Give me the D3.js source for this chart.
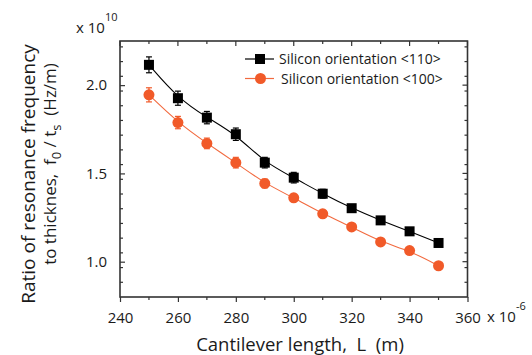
<!DOCTYPE html>
<html>
<head>
<meta charset="utf-8">
<script src="https://cdn.jsdelivr.net/npm/d3@7"></script>
<style>
  body { margin: 0; background: #fff; }
  text { font-family: "Open Sans", "Noto Sans", sans-serif; fill: #1a1a1a; white-space: pre; }
</style>
</head>
<body>
<div id="chart"></div>
<script>
// cantilever length (x 10^-6 m)
var lengths = [250, 260, 270, 280, 290, 300, 310, 320, 330, 340, 350];
// f0 / ts (x 10^10 Hz/m)
var si110 = [2.115, 1.926, 1.816, 1.722, 1.561, 1.476, 1.385, 1.303, 1.234, 1.172, 1.106];
var si110Err = [0.045, 0.04, 0.035, 0.035, 0.03, 0.03, 0.025, 0.02, 0.02, 0.02, 0.015];
var si100 = [1.945, 1.788, 1.670, 1.561, 1.443, 1.362, 1.271, 1.197, 1.112, 1.063, 0.977];
var si100Err = [0.04, 0.035, 0.03, 0.03, 0.025, 0.02, 0.02, 0.015, 0.015, 0.015, 0.01];
var seriesNames = ["Silicon orientation <110>", "Silicon orientation <100>"];
var xTicks = [240, 260, 280, 300, 320, 340, 360];
var yTicks = [1.0, 1.5, 2.0];

var w = 532, h = 355;
var mLeft = 120, mRight = 467.5, mTop = 41, mBottom = 297;

var svg = d3.select("#chart").append("svg")
  .attr("width", w)
  .attr("height", h);

var x = d3.scaleLinear().domain([240, 360]).range([mLeft, mRight]);
var y = d3.scaleLinear().domain([0.8, 2.25]).range([mBottom, mTop]);

var axisColor = "#333";

// minor tick positions
var xMinor = d3.range(250, 360, 20);
var yMinor = d3.range(0, 18).map(function(i) { return 0.8 + i * (0.5 / 6); })
  .filter(function(v) { return v > 0.81 && v < 2.24 && Math.abs(v * 2 - Math.round(v * 2)) > 0.01; });

// bottom axis: ticks outward
svg.append("g")
  .attr("transform", "translate(0," + mBottom + ")")
  .call(d3.axisBottom(x).tickValues(xTicks).tickSize(5).tickPadding(10).tickFormat(d3.format("d")))
  .call(function(g) {
    g.select(".domain").remove();
    g.selectAll(".tick line").attr("stroke", axisColor).attr("stroke-width", 1.2);
    g.selectAll(".tick text").attr("font-size", 15).attr("fill", "#1a1a1a").attr("font-family", "Open Sans");
  });
svg.append("g").selectAll("line").data(xMinor).enter().append("line")
  .attr("x1", function(d) { return x(d); }).attr("x2", function(d) { return x(d); })
  .attr("y1", mBottom).attr("y2", mBottom + 3)
  .attr("stroke", axisColor).attr("stroke-width", 1.2);

// top axis: ticks inward
svg.append("g").selectAll("line").data(xTicks.concat(xMinor)).enter().append("line")
  .attr("x1", function(d) { return x(d); }).attr("x2", function(d) { return x(d); })
  .attr("y1", mTop).attr("y2", function(d) { return xTicks.indexOf(d) >= 0 ? mTop + 5 : mTop + 3; })
  .attr("stroke", axisColor).attr("stroke-width", 1.2);

// left axis
svg.append("g")
  .attr("transform", "translate(" + mLeft + ",0)")
  .call(d3.axisLeft(y).tickValues(yTicks).tickSize(-5).tickPadding(13).tickFormat(d3.format(".1f")))
  .call(function(g) {
    g.select(".domain").remove();
    g.selectAll(".tick line").attr("stroke", axisColor).attr("stroke-width", 1.2);
    g.selectAll(".tick text").attr("font-size", 15).attr("fill", "#1a1a1a").attr("font-family", "Open Sans");
  });
svg.append("g").selectAll("line").data(yMinor).enter().append("line")
  .attr("x1", mLeft).attr("x2", mLeft + 3)
  .attr("y1", function(d) { return y(d); }).attr("y2", function(d) { return y(d); })
  .attr("stroke", axisColor).attr("stroke-width", 1.2);

// right axis ticks inward
svg.append("g").selectAll("line").data(yTicks.concat(yMinor)).enter().append("line")
  .attr("x1", mRight).attr("x2", function(d) { return yTicks.indexOf(d) >= 0 ? mRight - 5 : mRight - 3; })
  .attr("y1", function(d) { return y(d); }).attr("y2", function(d) { return y(d); })
  .attr("stroke", axisColor).attr("stroke-width", 1.2);

// frame
svg.append("rect")
  .attr("x", mLeft).attr("y", mTop)
  .attr("width", mRight - mLeft).attr("height", mBottom - mTop)
  .attr("fill", "none").attr("stroke", axisColor).attr("stroke-width", 1.6);

// scale factors
var t1 = svg.append("text").attr("x", 76).attr("y", 33).attr("font-size", 15);
t1.append("tspan").text("x 10");
t1.append("tspan").attr("dy", -12).attr("font-size", 11).text("10");

var t2 = svg.append("text").attr("x", 487).attr("y", 322).attr("font-size", 15);
t2.append("tspan").text("x 10");
t2.append("tspan").attr("dy", -12).attr("font-size", 11).text("-6");

// series
var series = [
  { vals: si110, err: si110Err, color: "#000000", line: "#000000", shape: "square" },
  { vals: si100, err: si100Err, color: "#f15a29", line: "#f26a3f", shape: "circle" }
];

var line = d3.line()
  .x(function(d, i) { return x(lengths[i]); })
  .y(function(d) { return y(d); })
  .curve(d3.curveBasis);

series.forEach(function(s) {
  svg.append("path")
    .attr("d", line(s.vals))
    .attr("fill", "none")
    .attr("stroke", s.line)
    .attr("stroke-width", 1.1);

  var g = svg.append("g");
  g.selectAll("line.err").data(s.vals).enter().append("line")
    .attr("x1", function(d, i) { return x(lengths[i]); })
    .attr("x2", function(d, i) { return x(lengths[i]); })
    .attr("y1", function(d, i) { return y(d + s.err[i]); })
    .attr("y2", function(d, i) { return y(d - s.err[i]); })
    .attr("stroke", s.color).attr("stroke-width", 1.2);
  [1, -1].forEach(function(sign) {
    g.selectAll("line.cap" + sign).data(s.vals).enter().append("line")
      .attr("x1", function(d, i) { return x(lengths[i]) - 3; })
      .attr("x2", function(d, i) { return x(lengths[i]) + 3; })
      .attr("y1", function(d, i) { return y(d + sign * s.err[i]); })
      .attr("y2", function(d, i) { return y(d + sign * s.err[i]); })
      .attr("stroke", s.color).attr("stroke-width", 1.2);
  });

  if (s.shape == "square") {
    g.selectAll("rect").data(s.vals).enter().append("rect")
      .attr("x", function(d, i) { return x(lengths[i]) - 5; })
      .attr("y", function(d) { return y(d) - 5; })
      .attr("width", 10).attr("height", 10)
      .attr("fill", s.color);
  } else {
    g.selectAll("circle").data(s.vals).enter().append("circle")
      .attr("cx", function(d, i) { return x(lengths[i]); })
      .attr("cy", function(d) { return y(d); })
      .attr("r", 5.5)
      .attr("fill", s.color);
  }
});

// legend
var legY = [59, 78.5];
series.forEach(function(s, i) {
  svg.append("line")
    .attr("x1", 245).attr("x2", 274)
    .attr("y1", legY[i]).attr("y2", legY[i])
    .attr("stroke", s.line).attr("stroke-width", 1.2);
  if (s.shape == "square") {
    svg.append("rect").attr("x", 255).attr("y", legY[i] - 5).attr("width", 10).attr("height", 10).attr("fill", s.color);
  } else {
    svg.append("circle").attr("cx", 260.5).attr("cy", legY[i]).attr("r", 5.5).attr("fill", s.color);
  }
  svg.append("text")
    .attr("x", i == 0 ? 279 : 281).attr("y", legY[i] + 5)
    .attr("font-size", 14)
    .text(seriesNames[i]);
});

// axis titles
svg.append("text")
  .attr("x", 300).attr("y", 351)
  .attr("text-anchor", "middle")
  .attr("font-size", 18.5)
  .text("Cantilever length,  L  (m)");

var yt = svg.append("g").attr("transform", "rotate(-90)");
yt.append("text")
  .attr("x", -174).attr("y", 35)
  .attr("text-anchor", "middle")
  .attr("font-size", 19)
  .text("Ratio of resonance frequency");
var l2 = yt.append("text")
  .attr("x", -164).attr("y", 56)
  .attr("text-anchor", "middle")
  .attr("font-size", 17);
l2.append("tspan").text("to thicknes,  f");
l2.append("tspan").attr("dy", 5).attr("font-size", 13).text("0");
l2.append("tspan").attr("dy", -5).text(" / t");
l2.append("tspan").attr("dy", 5).attr("font-size", 13).text("s");
l2.append("tspan").attr("dy", -5).text("  (Hz/m)");
</script>
</body>
</html>
